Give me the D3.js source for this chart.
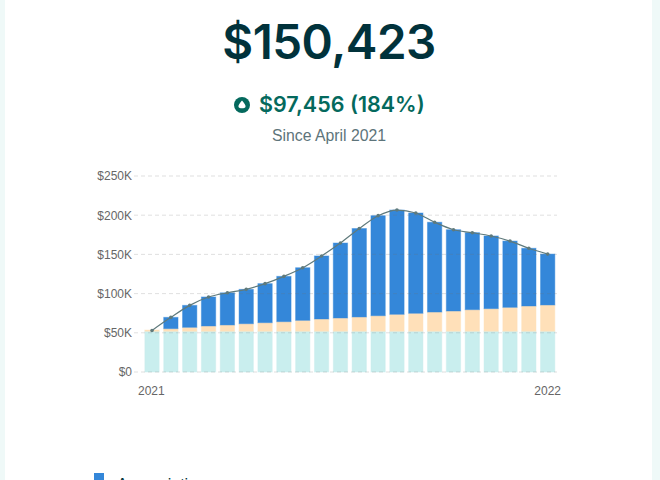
<!DOCTYPE html>
<html>
<head>
<meta charset="utf-8">
<script src="https://cdn.jsdelivr.net/npm/d3@7"></script>
<style>
  html, body { margin: 0; padding: 0; background: #eff9f8; overflow: hidden; }
  #card { position: absolute; left: 5px; top: 0; width: 647px; height: 480px; background: #fff; }
  svg { position: absolute; left: 0; top: 0; }
  text { font-family: "Liberation Sans", Arial, sans-serif; }
</style>
</head>
<body>
<div id="card"></div>
<svg id="chart" width="660" height="480"></svg>
<script>
// values in thousands of dollars
const months = d3.range(22);
const contributions = [52, 52, 52, 52, 52, 52, 52, 52, 52, 52, 52, 52, 52, 52, 52, 52, 52, 52, 52, 52, 52, 52];
const interest = [1.5, 3.3, 5, 6.7, 8, 9.6, 10.9, 12.2, 13.9, 15.6, 16.9, 18.2, 19.8, 21.6, 22.9, 24.5, 25.8, 27.5, 28.8, 30.5, 32.2, 33.5];
const appreciation = [0, 14.4, 28, 37, 41, 43.8, 49.8, 57.8, 67.1, 80.4, 95.6, 112.8, 127.6, 133, 127.9, 114.5, 103.7, 98.2, 92.7, 84.5, 73.6, 64.9];
const totals = [53, 69.7, 85, 95.7, 101, 105.4, 112.7, 122, 133, 148, 164.5, 183, 199.4, 206.6, 202.8, 191, 181.5, 177.7, 173.5, 167, 157.8, 150.4];
const yTicks = [0, 50, 100, 150, 200, 250];
const seriesNames = ["Contributions", "Interest", "Appreciation"];
const seriesColors = ["#c9eeee", "#ffe0b9", "#3487d9"];

const svg = d3.select("#chart");

// headline
svg.append("text").attr("x", 329).attr("y", 59).attr("text-anchor", "middle")
  .attr("font-size", 47.5).attr("font-weight", 600).attr("fill", "#01323b")
  .style("font-family", "Inter, sans-serif").attr("letter-spacing", -0.5).text("$150,423");

// change line with the up icon
const up = svg.append("g").attr("transform", "translate(242,105)");
up.append("circle").attr("r", 8).attr("fill", "#04695d");
up.append("path").attr("d", "M0,-4.5C2,-2 4,0 3.5,2C3,3.8 -3,3.8 -3.5,2C-4,0 -2,-2 0,-4.5Z").attr("fill", "#fff");
svg.append("text").attr("x", 259).attr("y", 112).attr("font-size", 21.5).attr("font-weight", 600)
  .attr("fill", "#04695d").style("font-family", "Inter, sans-serif").text("$97,456 (184%)");

svg.append("text").attr("x", 329).attr("y", 141).attr("text-anchor", "middle")
  .attr("font-size", 15.8).attr("fill", "#5d747a").text("Since April 2021");

// scales
const x = d3.scaleBand().domain(months).range([142.6, 557.1]).paddingInner(0.24).paddingOuter(0.12);
const y = d3.scaleLinear().domain([0, 250]).range([372, 176]);

// y axis labels
const yAxis = svg.append("g").attr("transform", "translate(134,0)")
  .call(d3.axisLeft(y).tickValues(yTicks).tickSize(0).tickPadding(2).tickFormat(d => "$" + (d ? d + "K" : "0")));
yAxis.select(".domain").remove();
yAxis.selectAll("text").attr("font-size", 12).attr("fill", "#666").style("font-family", "'Liberation Sans', Arial, sans-serif");

// stacked bars, each with a pale edge
const rows = months.map(i => ({ month: i, Contributions: contributions[i], Interest: interest[i], Appreciation: appreciation[i] }));
const stacked = d3.stack().keys(seriesNames)(rows);

svg.append("g").selectAll("g").data(stacked).join("g")
  .attr("fill", (d, i) => seriesColors[i])
  .attr("stroke", (d, i) => seriesColors[i])
  .selectAll("rect").data(d => d).join("rect")
  .attr("x", d => x(d.data.month))
  .attr("width", x.bandwidth())
  .attr("y", d => y(d[1]))
  .attr("height", d => y(d[0]) - y(d[1]))
  .attr("stroke-width", 1)
  .attr("stroke-opacity", 0.45);

// dashed grid sits over the bars
svg.append("g").selectAll("line").data(yTicks).join("line")
  .attr("x1", 134).attr("x2", 557)
  .attr("y1", d => y(d)).attr("y2", d => y(d))
  .attr("stroke", "#707070").attr("stroke-opacity", 0.22).attr("stroke-dasharray", "4,3");

// total line with small dots
const line = d3.line().x((d, i) => x(months[i]) + x.bandwidth() / 2).y(d => y(d)).curve(d3.curveMonotoneX);
svg.append("path").attr("d", line(totals)).attr("fill", "none").attr("stroke", "#5f7a7c").attr("stroke-width", 1.2);
svg.append("g").selectAll("circle").data(totals).join("circle")
  .attr("cx", (d, i) => x(months[i]) + x.bandwidth() / 2).attr("cy", d => y(d)).attr("r", 1.8).attr("fill", "#5f7a7c");

// x labels
svg.append("text").attr("x", 138).attr("y", 395).attr("font-size", 12).attr("fill", "#666").text("2021");
svg.append("text").attr("x", 561).attr("y", 395).attr("text-anchor", "end").attr("font-size", 12).attr("fill", "#666").text("2022");

// legend, cut off by the window as in the reference
svg.append("rect").attr("x", 94).attr("y", 473).attr("width", 10).attr("height", 10).attr("fill", seriesColors[2]);
svg.append("text").attr("x", 117).attr("y", 490).attr("font-size", 16).attr("fill", "#01323b").text("Appreciation");
</script>
</body>
</html>
